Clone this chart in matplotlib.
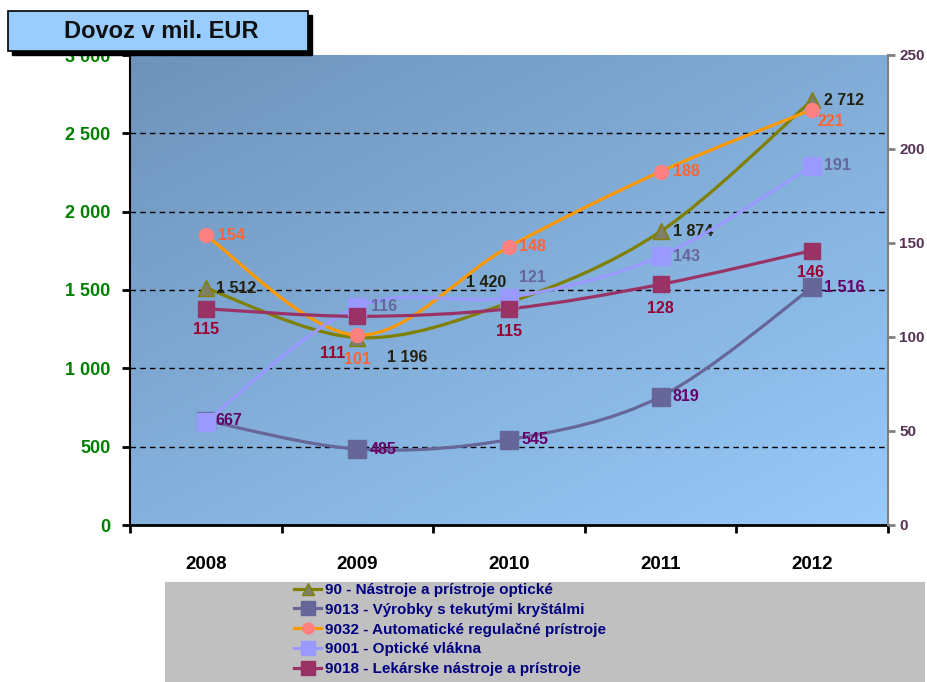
import matplotlib.pyplot as plt
import numpy as np
import matplotlib.ticker as ticker
from matplotlib.path import Path
from matplotlib.patches import PathPatch, Rectangle
from matplotlib.lines import Line2D

years = ['2008', '2009', '2010', '2011', '2012']
optics = [1512, 1196, 1420, 1874, 2712]     # 90  (left axis)
lcd = [667, 485, 545, 819, 1516]            # 9013 (left axis)
regul = [154, 101, 148, 188, 221]           # 9032 (right axis)
fibre = [55, 116, 121, 143, 191]            # 9001 (right axis)
medical = [115, 111, 115, 128, 146]         # 9018 (right axis)

names = ['90 - Nástroje a prístroje optické',
         '9013 - Výrobky s tekutými kryštálmi',
         '9032 - Automatické regulačné prístroje',
         '9001 - Optické vlákna',
         '9018 - Lekárske nástroje a prístroje']

plt.rcParams['font.family'] = ['Liberation Sans', 'DejaVu Sans']


def smooth_path(xs, ys):
    # Excel-like smoothed line: Catmull-Rom segments as cubic bezier
    pts = np.column_stack([xs, ys]).astype(float)
    verts = [pts[0]]
    codes = [Path.MOVETO]
    n = len(pts)
    for i in range(n - 1):
        p0 = pts[max(i - 1, 0)]
        p1 = pts[i]
        p2 = pts[i + 1]
        p3 = pts[min(i + 2, n - 1)]
        c1 = p1 + (p2 - p0) / 6.0
        c2 = p2 - (p3 - p1) / 6.0
        verts += [c1, c2, p2]
        codes += [Path.CURVE4] * 3
    return Path(verts, codes)


fig = plt.figure(figsize=(9.28, 6.82), dpi=100)
ax = fig.add_axes([130 / 928, 1 - 525 / 682, 758 / 928, 470 / 682])
ax2 = ax.twinx()

x = np.arange(len(years))
ax.set_xlim(-0.5, 4.5)
ax.set_ylim(0, 3000)
ax2.set_ylim(0, 250)

# gradient background
gx, gy = np.meshgrid(np.linspace(0, 1, 200), np.linspace(0, 1, 200))
t = (gx * 0.45 + (1 - gy) * 0.55)
c0 = np.array([110, 147, 186]) / 255
c1 = np.array([152, 202, 250]) / 255
img = c0[None, None, :] * (1 - t[..., None]) + c1[None, None, :] * t[..., None]
ax.imshow(img, extent=[0, 1, 1, 0], transform=ax.transAxes, aspect='auto', zorder=0)
ax.set_facecolor('none')

for v in [500, 1000, 1500, 2000, 2500]:
    ax.axhline(v, color='black', lw=1, ls=(0, (4, 3)), zorder=1)

series = [
    (ax, optics, '#808000', '^', '#7f7f66', '#808000', 11),
    (ax, lcd, '#666699', 's', '#666699', '#666699', 13),
    (ax2, regul, '#ff9900', 'o', '#ff8080', '#ff8080', 10),
    (ax2, fibre, '#9999ff', 's', '#9999ff', '#9999ff', 13),
    (ax2, medical, '#993366', 's', '#993366', '#993366', 12),
]

handles = []
for a, vals, lc, mk, fc, ec, ms in series:
    a.add_patch(PathPatch(smooth_path(x, vals), fill=False, edgecolor=lc, lw=2.3, zorder=3))
    a.plot(x, vals, ls='none', marker=mk, ms=ms, mfc=fc, mec=ec, zorder=4)
    handles.append(Line2D([], [], color=lc, lw=2.3, marker=mk, ms=ms * 0.8, mfc=fc, mec=ec))

def fmt(v):
    return f'{v:,}'.replace(',', ' ')

label_specs = [
    (ax, optics, '#222211', [(10, 0, 'left'), (30, -20, 'left'), (-3, 20, 'right'), (12, 0, 'left'), (12, 0, 'left')]),
    (ax, lcd, '#660066', [(10, 0, 'left'), (12, 0, 'left'), (12, 0, 'left'), (12, 0, 'left'), (12, 0, 'left')]),
    (ax2, regul, '#ff6633', [(12, 0, 'left'), (0, -24, 'center'), (10, 0, 'left'), (12, 0, 'left'), (5, -12, 'left')]),
    (ax2, fibre, '#666699', [None, (14, 0, 'left'), (10, 20, 'left'), (12, 0, 'left'), (12, 0, 'left')]),
    (ax2, medical, '#990033', [(0, -21, 'center'), (-25, -37, 'center'), (0, -23, 'center'), (0, -24, 'center'), (-2, -22, 'center')]),
]
for a, vals, col, offs in label_specs:
    for xi, v, o in zip(x, vals, offs):
        if o is None:
            continue
        a.annotate(fmt(v), (xi, v), xytext=(o[0], o[1]), textcoords='offset pixels',
                   ha=o[2], va='center', color=col, fontsize=11.5, fontweight='bold', zorder=6)

# axes styling
ax.yaxis.set_major_locator(ticker.MultipleLocator(500))
ax.yaxis.set_major_formatter(ticker.FuncFormatter(lambda v, p: fmt(int(v))))
ax.tick_params(axis='y', colors='black', labelcolor='#008000', length=6, width=2, pad=8,
               labelsize=13)
for lab in ax.get_yticklabels():
    lab.set_fontweight('bold')
ax.set_xticks(x)
ax.set_xticklabels(years, fontweight='bold', fontsize=13.5)
ax.xaxis.set_minor_locator(ticker.FixedLocator(np.arange(-0.5, 5, 1)))
ax.tick_params(axis='x', which='major', length=0, pad=22)
ax.tick_params(axis='x', which='minor', length=6, width=2, color='black')

ax2.yaxis.set_major_locator(ticker.MultipleLocator(50))
ax2.tick_params(axis='y', colors='#808080', labelcolor='#553355', length=5, width=2, pad=3,
                labelsize=11)
for lab in ax2.get_yticklabels():
    lab.set_fontweight('bold')

for a in (ax, ax2):
    a.spines['top'].set_visible(False)
ax.spines['left'].set_color('black')
ax.spines['left'].set_linewidth(1.5)
ax.spines['bottom'].set_linewidth(2)
ax2.spines['left'].set_visible(False)
ax2.spines['bottom'].set_visible(False)
ax2.spines['right'].set_color('#808080')
ax2.spines['right'].set_linewidth(1.5)
ax.spines['right'].set_visible(False)

# title box with shadow
fig.patches.append(Rectangle((12 / 928, 1 - 55 / 682), 300 / 928, 40 / 682, transform=fig.transFigure,
                             facecolor='black', edgecolor='black', zorder=1))
fig.patches.append(Rectangle((8 / 928, 1 - 51 / 682), 300 / 928, 40 / 682, transform=fig.transFigure,
                             facecolor='#99ccff', edgecolor='black', lw=1.2, zorder=2))
fig.text(161 / 928, 1 - 31 / 682, 'Dovoz v mil. EUR', ha='center', va='center', fontsize=17,
         fontweight='bold', color='#111111', zorder=3)

# legend panel
fig.patches.append(Rectangle((165 / 928, 0), 760 / 928, 100 / 682, transform=fig.transFigure,
                             facecolor='#c0c0c0', edgecolor='none', zorder=0))
leg = fig.legend(handles, names, loc='upper left', bbox_to_anchor=(294 / 928, 1 - 583 / 682),
                 frameon=False, handlelength=1.8, handletextpad=0.25, labelspacing=0.38,
                 borderaxespad=0, borderpad=0,
                 prop={'family': ['Liberation Sans'], 'weight': 'bold', 'size': 11})
for txt in leg.get_texts():
    txt.set_color('#000080')

fig.savefig('out.png', dpi=100)
